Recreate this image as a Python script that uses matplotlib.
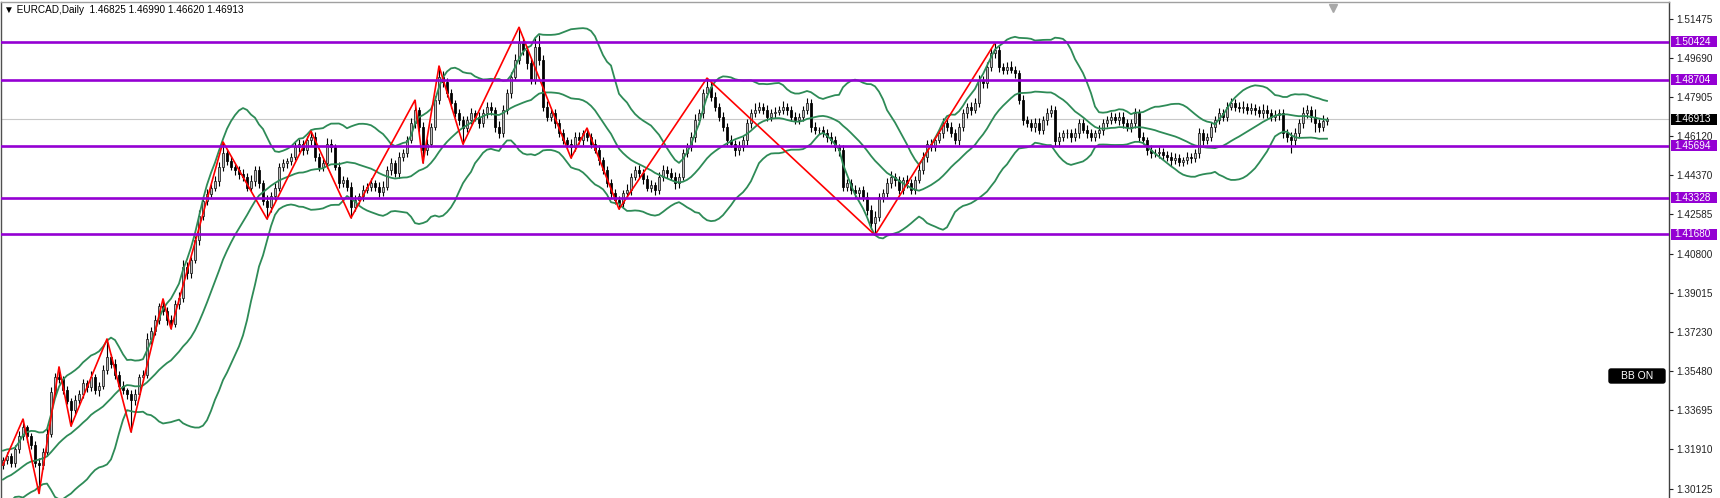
import numpy as np
import pandas as pd
import matplotlib.pyplot as plt
from matplotlib.patches import Rectangle, FancyBboxPatch
from matplotlib.transforms import IdentityTransform

# Daily closes (one value per candle, oldest first)
closes = [
    1.3140, 1.3160, 1.3130, 1.3190, 1.3250, 1.3290, 1.3250, 1.3210, 1.3130, 1.3120,
    1.3180, 1.3260, 1.3450, 1.3520, 1.3510, 1.3460, 1.3410, 1.3370, 1.3415, 1.3440,
    1.3490, 1.3475, 1.3520, 1.3460, 1.3480, 1.3550, 1.3610, 1.3580, 1.3530, 1.3480,
    1.3460, 1.3440, 1.3415, 1.3440, 1.3520, 1.3530, 1.3690, 1.3730, 1.3780, 1.3840,
    1.3820, 1.3780, 1.3760, 1.3850, 1.3880, 1.4020, 1.3990, 1.4050, 1.4140, 1.4250,
    1.4320, 1.4350, 1.4380, 1.4410, 1.4475, 1.4535, 1.4500, 1.4475, 1.4460, 1.4440,
    1.4430, 1.4380, 1.4410, 1.4460, 1.4400, 1.4320, 1.4290, 1.4340, 1.4380, 1.4475,
    1.4490, 1.4500, 1.4520, 1.4565, 1.4580, 1.4550, 1.4596, 1.4610, 1.4520, 1.4475,
    1.4490, 1.4580, 1.4565, 1.4475, 1.4400, 1.4414, 1.4384, 1.4293, 1.4323, 1.4340,
    1.4370, 1.4384, 1.4399, 1.4384, 1.4360, 1.4384, 1.4460, 1.4490, 1.4445, 1.4520,
    1.4535, 1.4596, 1.4672, 1.4733, 1.4656, 1.4550, 1.4580, 1.4656, 1.4778, 1.4884,
    1.4860, 1.4808, 1.4763, 1.4717, 1.4687, 1.4650, 1.4687, 1.4717, 1.4702, 1.4672,
    1.4717, 1.4748, 1.4733, 1.4656, 1.4626, 1.4733, 1.4808, 1.4884, 1.4960, 1.5036,
    1.5005, 1.4944, 1.4869, 1.5020, 1.4960, 1.4748, 1.4702, 1.4717, 1.4672, 1.4626,
    1.4596, 1.4580, 1.4565, 1.4610, 1.4596, 1.4626, 1.4610, 1.4580, 1.4550, 1.4505,
    1.4460, 1.4399, 1.4353, 1.4323, 1.4308, 1.4353, 1.4370, 1.4430, 1.4460, 1.4445,
    1.4420, 1.4380, 1.4390, 1.4370, 1.4430, 1.4460, 1.4445, 1.4430, 1.4399, 1.4430,
    1.4535, 1.4565, 1.4610, 1.4687, 1.4717, 1.4808, 1.4838, 1.4793, 1.4748, 1.4702,
    1.4656, 1.4596, 1.4580, 1.4550, 1.4565, 1.4596, 1.4672, 1.4717, 1.4732, 1.4748,
    1.4732, 1.4702, 1.4717, 1.4725, 1.4732, 1.4748, 1.4732, 1.4702, 1.4687, 1.4702,
    1.4732, 1.4763, 1.4656, 1.4641, 1.4641, 1.4626, 1.4610, 1.4596, 1.4565, 1.4550,
    1.4384, 1.4399, 1.4369, 1.4353, 1.4369, 1.4338, 1.4278, 1.4217, 1.4248, 1.4338,
    1.4353, 1.4399, 1.4430, 1.4414, 1.4369, 1.4414, 1.4399, 1.4369, 1.4414, 1.4460,
    1.4520, 1.4580, 1.4565, 1.4596, 1.4626, 1.4672, 1.4656, 1.4626, 1.4596, 1.4656,
    1.4717, 1.4748, 1.4733, 1.4763, 1.4869, 1.4854, 1.4929, 1.4990, 1.5005, 1.4929,
    1.4914, 1.4929, 1.4914, 1.4899, 1.4778, 1.4687, 1.4672, 1.4656, 1.4672, 1.4641,
    1.4687, 1.4717, 1.4733, 1.4590, 1.4610, 1.4626, 1.4626, 1.4610, 1.4626, 1.4672,
    1.4641, 1.4626, 1.4610, 1.4626, 1.4641, 1.4672, 1.4687, 1.4702, 1.4687, 1.4702,
    1.4672, 1.4656, 1.4672, 1.4717, 1.4610, 1.4596, 1.4550, 1.4535, 1.4535, 1.4543,
    1.4528, 1.4520, 1.4505, 1.4513, 1.4498, 1.4505, 1.4520, 1.4513, 1.4535, 1.4626,
    1.4596, 1.4610, 1.4656, 1.4687, 1.4717, 1.4702, 1.4748, 1.4763, 1.4748, 1.4740,
    1.4748, 1.4733, 1.4740, 1.4733, 1.4717, 1.4733, 1.4717, 1.4702, 1.4710, 1.4717,
    1.4626, 1.4610, 1.4596, 1.4626, 1.4672, 1.4717, 1.4733, 1.4702, 1.4672, 1.4656,
    1.4683, 1.4691,
]
first_open = 1.3120

# upper / lower shadow lengths in pips (0.0001)
up_pips = [
    15, 20, 12, 18, 25, 38, 10, 14, 20, 22, 16, 30, 25, 18, 45, 12, 20, 15, 22, 18,
    20, 15, 28, 12, 18, 25, 82, 14, 20, 16, 22, 10, 18, 25, 15, 20, 30, 18, 22, 14,
    34, 15, 20, 18, 25, 30, 22, 15, 20, 28, 18, 25, 15, 22, 20, 52, 18, 25, 14, 20,
    22, 15, 28, 18, 20, 14, 25, 18, 22, 16, 20, 15, 18, 22, 20, 15, 18, 26, 20, 15,
    18, 25, 20, 15, 22, 18, 14, 20, 25, 16, 20, 18, 22, 15, 20, 25, 18, 22, 15, 20,
    20, 18, 25, 44, 15, 20, 22, 18, 20, 48, 25, 18, 20, 15, 22, 18, 20, 25, 15, 20,
    18, 22, 20, 15, 25, 20, 18, 22, 25, 72, 30, 20, 25, 40, 55, 20, 25, 18, 22, 20,
    18, 15, 20, 20, 22, 15, 24, 18, 20, 22, 15, 20, 18, 22, 20, 18, 25, 15, 20, 22,
    20, 18, 25, 15, 20, 22, 18, 25, 20, 15, 22, 18, 20, 25, 18, 20, 39, 20, 22, 18,
    20, 15, 22, 18, 25, 20, 18, 22, 30, 20, 15, 25, 18, 22, 20, 25, 18, 20, 22, 15,
    20, 25, 18, 22, 15, 20, 18, 22, 20, 15, 25, 18, 20, 22, 15, 18, 20, 22, 25, 18,
    20, 22, 25, 18, 20, 15, 22, 18, 20, 25, 22, 18, 20, 15, 22, 25, 18, 20, 22, 18,
    20, 18, 22, 25, 20, 18, 22, 25, 32, 20, 18, 22, 25, 20, 15, 22, 18, 20, 22, 25,
    20, 25, 22, 18, 20, 15, 22, 18, 25, 20, 18, 22, 20, 15, 25, 18, 20, 22, 18, 20,
    22, 18, 20, 25, 18, 20, 15, 22, 18, 20, 15, 18, 20, 22, 18, 15, 20, 18, 22, 25,
    20, 18, 22, 20, 25, 18, 20, 22, 18, 20, 25, 18, 22, 20, 18, 25, 20, 18, 22, 20,
    18, 22, 20, 25, 18, 30, 22, 18, 35, 20, 25, 8,
]
dn_pips = [
    18, 15, 22, 20, 15, 18, 25, 20, 22, 130, 20, 18, 15, 22, 18, 20, 15, 74, 20, 18,
    15, 22, 18, 20, 25, 15, 18, 22, 20, 15, 18, 22, 146, 25, 18, 20, 15, 22, 18, 20,
    18, 25, 22, 15, 20, 18, 25, 20, 15, 22, 18, 20, 15, 18, 22, 20, 18, 15, 22, 20,
    20, 18, 15, 22, 20, 20, 53, 20, 18, 15, 22, 20, 18, 15, 22, 20, 18, 25, 20, 22,
    18, 20, 22, 15, 20, 18, 22, 51, 20, 18, 22, 15, 20, 18, 25, 20, 15, 22, 18, 20,
    20, 18, 15, 20, 22, 59, 20, 18, 15, 20, 22, 18, 20, 15, 25, 73, 20, 18, 22, 20,
    18, 20, 22, 25, 20, 15, 18, 20, 15, 18, 22, 25, 20, 18, 22, 20, 18, 22, 20, 18,
    20, 25, 51, 18, 20, 22, 18, 20, 15, 22, 20, 18, 22, 20, 26, 15, 20, 22, 18, 20,
    22, 18, 20, 25, 18, 20, 22, 18, 25, 20, 15, 18, 20, 22, 18, 20, 15, 22, 20, 18,
    20, 22, 18, 25, 20, 18, 22, 20, 18, 15, 20, 22, 18, 20, 15, 18, 22, 20, 18, 20,
    18, 20, 22, 18, 20, 15, 22, 18, 20, 25, 20, 22, 18, 20, 22, 18, 25, 25, 53, 20,
    22, 18, 20, 25, 18, 20, 22, 18, 20, 15, 18, 22, 20, 18, 15, 22, 20, 18, 20, 22,
    18, 20, 22, 15, 18, 20, 22, 18, 20, 25, 18, 20, 15, 22, 20, 25, 18, 20, 22, 18,
    20, 22, 18, 20, 25, 18, 20, 22, 18, 20, 15, 22, 20, 18, 20, 22, 18, 20, 15, 22,
    20, 18, 22, 20, 25, 18, 20, 22, 18, 20, 22, 18, 25, 20, 22, 18, 20, 22, 18, 20,
    22, 18, 20, 25, 18, 20, 22, 18, 20, 15, 22, 18, 20, 22, 18, 20, 22, 18, 20, 22,
    20, 25, 60, 22, 18, 20, 22, 25, 40, 22, 20, 21,
]

# closes before the first visible candle, only used to warm up the bands
warmup_closes = [1.2925, 1.2960, 1.2940, 1.2985, 1.3010, 1.2990, 1.3030, 1.3055, 1.3020, 1.3060,
                 1.3090, 1.3070, 1.3110, 1.3085, 1.3120, 1.3100, 1.3140, 1.3105, 1.3130]

# zigzag swing points (candle index, price)
zz_idx = [0, 5, 9, 14, 17, 26, 32, 40, 42, 55, 66, 77, 87, 103, 105, 109, 115, 129, 142, 146, 154, 176, 218, 248]
zz_price = [1.3120, 1.3328, 1.2990, 1.3565, 1.3296, 1.3692, 1.3269, 1.3874, 1.3738, 1.4587, 1.4237, 1.4636,
            1.4242, 1.4777, 1.4491, 1.4932, 1.4577, 1.5108, 1.4514, 1.4650, 1.4282, 1.4877, 1.4164, 1.5037]

levels = [1.50424, 1.48704, 1.45694, 1.43328, 1.41680]
last_price = 1.46913
yticks = [1.51475, 1.49690, 1.47905, 1.46120, 1.44370, 1.42585, 1.40800,
          1.39015, 1.37230, 1.35480, 1.33695, 1.31910, 1.30125]
title = '\u25bc EURCAD,Daily  1.46825 1.46990 1.46620 1.46913'

plt.rcParams['font.family'] = ['Liberation Sans', 'DejaVu Sans']

W, H = 1720, 498
PURPLE = '#9400d3'
GREEN = '#2e8b57'

n = len(closes)
c = np.array(closes)
o = np.array([first_open] + closes[:-1])  # daily open = previous close
hi = np.maximum(o, c) + np.array(up_pips) / 1e4
lo = np.minimum(o, c) - np.array(dn_pips) / 1e4
x = np.arange(n)

# Bollinger bands 20, 2
s = pd.Series(warmup_closes + closes)
mid = s.rolling(20).mean()
sd = s.rolling(20).std(ddof=0)
k = len(warmup_closes)
bb_mid = mid.values[k:]
bb_up = (mid + 2 * sd).values[k:]
bb_lo = (mid - 2 * sd).values[k:]

fig = plt.figure(figsize=(W / 100, H / 100), dpi=100)
ax = fig.add_axes([1 / W, 0, 1668 / W, 496 / H])
ax.set_xlim(-0.5, 416.5)
ax.set_ylim(1.29694, 1.52229)

# current price line
ax.axhline(last_price, color='#c8c8c8', lw=0.8, zorder=1)

# candles
ax.vlines(x, lo, hi, color='black', lw=0.8, zorder=3)
up = c >= o
body = np.maximum(np.abs(c - o), 0.0002)
ax.bar(x[up], body[up], bottom=o[up], width=0.72, color='#bdbdbd',
       edgecolor='#1a1a1a', linewidth=0.55, zorder=4)
ax.bar(x[~up], body[~up], bottom=c[~up], width=0.72, color='black',
       edgecolor='black', linewidth=0.55, zorder=4)

# bands and zigzag
for band in (bb_up, bb_mid, bb_lo):
    ax.plot(x, band, color=GREEN, lw=1.3, zorder=5)
ax.plot(zz_idx, zz_price, color='red', lw=1.2, zorder=5)

# horizontal levels with price tags
ytr = ax.get_yaxis_transform()
tag_h = 11 / 2201
for lv in levels:
    ax.axhline(lv, color=PURPLE, lw=1.9, zorder=6)
    ax.add_patch(Rectangle((1.0012, lv - tag_h / 2), 0.0276, tag_h, transform=ytr,
                           fc=PURPLE, ec='none', clip_on=False, zorder=7))
    ax.text(1.0030, lv, f'{lv:.5f}', transform=ytr, color='white', fontsize=7.2,
            va='center', ha='left', clip_on=False, zorder=8)
ax.add_patch(Rectangle((1.0012, last_price - tag_h / 2), 0.0276, tag_h, transform=ytr,
                       fc='black', ec='none', clip_on=False, zorder=7))
ax.text(1.0030, last_price, f'{last_price:.5f}', transform=ytr, color='white', fontsize=7.2,
        va='center', ha='left', clip_on=False, zorder=8)

# chart shift marker
ax.plot([n + 0.5], [0.988], marker='v', ms=6, color='#a8a8a8', mec='#a8a8a8',
        transform=ax.get_xaxis_transform(), clip_on=False, zorder=8)

# axes styling
ax.yaxis.tick_right()
ax.set_yticks(yticks)
ax.set_yticklabels([f'{v:.5f}' for v in yticks])
ax.tick_params(axis='y', length=3, width=0.8, pad=2, labelsize=7.2, colors='#222222')
ax.set_xticks([])
ax.spines['bottom'].set_visible(False)
ax.spines['left'].set_color('#505050')
ax.spines['top'].set_color('#a0a0a0')
ax.spines['right'].set_color('#404040')
for sp in ax.spines.values():
    sp.set_linewidth(1.0)

fig.text(4 / W, 1 - 10 / H, title, fontsize=7.2, va='center', ha='left')

# "BB ON" button
fig.add_artist(FancyBboxPatch((1609, H - 383), 56, 14, boxstyle='round,pad=0,rounding_size=2',
                              transform=IdentityTransform(), fc='black', ec='black'))
fig.text(1637 / W, 1 - 376 / H, 'BB ON', color='white', fontsize=7.5, ha='center', va='center')

fig.savefig('out.png', dpi=100)
